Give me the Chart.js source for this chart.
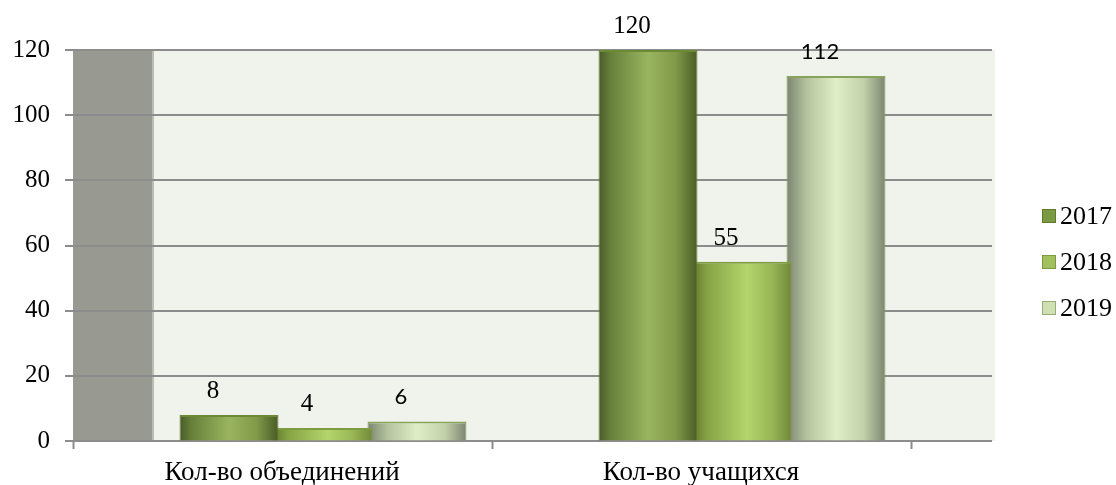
<!DOCTYPE html>
<html>
<head>
<meta charset="utf-8">
<script src="https://cdn.jsdelivr.net/npm/chart.js@4.4.0/dist/chart.umd.min.js"></script>
<style>
  html, body { margin: 0; padding: 0; background: #fff; }
  #wrap { width: 1116px; height: 485px; }
</style>
</head>
<body>
<div id="wrap"><canvas id="chart"></canvas></div>
<script>
// Chart data
const categories = ['Кол-во объединений', 'Кол-во учащихся'];
const years = ['2017', '2018', '2019'];
const values2017 = [8, 120];
const values2018 = [4, 55];
const values2019 = [6, 112];
const yMin = 0, yMax = 120, yStep = 20;

const serif = '"Liberation Serif", "Times New Roman", serif';
const sans = 'Lato, "Open Sans", sans-serif';

// horizontal "cylinder" shading for each series
const barStops = [
    [[0, '#48592a'], [0.12, '#66803a'], [0.5, '#9ab55f'], [0.78, '#80994a'], [0.95, '#55692d'], [1, '#4b5d28']],
    [[0, '#63792f'], [0.15, '#86a444'], [0.55, '#b3d56c'], [0.8, '#98b755'], [1, '#70883a']],
    [[0, '#7b8470'], [0.2, '#b4c29e'], [0.5, '#e0eec6'], [0.78, '#c3d1aa'], [1, '#7b8570']]
];
const borderColors = ['#6c8a36', '#7d9c40', '#8aa35c'];
const legendFill = ['#7a9a42', '#a2c05e', '#d0e0b2'];
const legendBorder = ['#5f7a30', '#7d9c40', '#98ae78'];
const labelFonts = ['25px ' + serif, '25px ' + serif, '22px ' + sans];

const decor = {
    id: 'decor',
    beforeDraw(chart) {
        const ctx = chart.ctx;
        const xs = chart.scales.x, ys = chart.scales.y;
        const front = xs.left - 40.5;
        const back = xs.right + 43.5;
        const top = ys.top, bottom = ys.bottom;
        ctx.save();
        // back wall and side wall
        ctx.fillStyle = '#f0f2ec';
        ctx.fillRect(front, top, back - front, bottom - top);
        ctx.fillStyle = '#989a92';
        ctx.fillRect(front, top, 80, bottom - top);
        ctx.fillStyle = '#b9bcb2';
        ctx.fillRect(front + 79, top, 2, bottom - top);
        // grid lines
        ctx.strokeStyle = '#8c8c8c';
        ctx.lineWidth = 2;
        ys.ticks.forEach(t => {
            const y = Math.round(ys.getPixelForValue(t.value));
            ctx.beginPath();
            ctx.moveTo(front - 8, y);
            ctx.lineTo(back - 3, y);
            ctx.stroke();
        });
        // x axis ticks at category edges
        const w = xs.width / categories.length;
        for (let i = 0; i <= categories.length; i++) {
            const x = Math.round(xs.left + i * w - 40.5) + 0.5;
            ctx.beginPath();
            ctx.moveTo(x, bottom);
            ctx.lineTo(x, bottom + 8);
            ctx.stroke();
        }
        ctx.restore();
    },
    beforeDatasetsDraw(chart) {
        const ctx = chart.ctx;
        chart.data.datasets.forEach((ds, di) => {
            chart.getDatasetMeta(di).data.forEach(el => {
                const g = ctx.createLinearGradient(el.x - el.width / 2, 0, el.x + el.width / 2, 0);
                barStops[di].forEach(s => g.addColorStop(s[0], s[1]));
                el.options.backgroundColor = g;
            });
        });
    },
    afterDatasetsDraw(chart) {
        const ctx = chart.ctx;
        ctx.save();
        ctx.fillStyle = '#000';
        ctx.textAlign = 'center';
        ctx.textBaseline = 'alphabetic';
        chart.data.datasets.forEach((ds, di) => {
            ctx.font = labelFonts[di];
            chart.getDatasetMeta(di).data.forEach((el, i) => {
                ctx.fillText(String(ds.data[i]), el.x - 16, el.y - 17);
            });
        });
        ctx.restore();
    },
    afterDraw(chart) {
        const ctx = chart.ctx;
        ctx.save();
        ctx.font = '26px ' + serif;
        ctx.textBaseline = 'middle';
        ctx.textAlign = 'left';
        years.forEach((yr, i) => {
            const cy = 216 + i * 46;
            ctx.fillStyle = legendFill[i];
            ctx.fillRect(1042, cy - 7, 14, 14);
            ctx.strokeStyle = legendBorder[i];
            ctx.lineWidth = 1;
            ctx.strokeRect(1042.5, cy - 6.5, 13, 13);
            ctx.fillStyle = '#000';
            ctx.fillText(yr, 1060, cy + 1);
        });
        ctx.restore();
    }
};

const makeSet = (label, data, i) => ({
    label: label,
    data: data,
    backgroundColor: () => barStops[i][2][1],
    borderColor: borderColors[i],
    borderWidth: { top: 2, left: 1, right: 1, bottom: 0 },
    borderSkipped: 'bottom',
    categoryPercentage: 0.673,
    barPercentage: 1.053
});

new Chart(document.getElementById('chart'), {
    type: 'bar',
    data: {
        labels: categories,
        datasets: [
            makeSet(years[0], values2017, 0),
            makeSet(years[1], values2018, 1),
            makeSet(years[2], values2019, 2)
        ]
    },
    options: {
        responsive: true,
        maintainAspectRatio: false,
        animation: false,
        layout: { padding: { top: 50, right: 164.5, bottom: 0, left: 0 } },
        plugins: {
            legend: { display: false },
            tooltip: { enabled: false }
        },
        scales: {
            x: {
                grid: { display: true, color: 'transparent', drawOnChartArea: false, drawTicks: true, tickLength: 16 },
                border: { display: false },
                ticks: {
                    color: '#000',
                    font: { family: serif, size: 27 },
                    padding: 0,
                    labelOffset: -41,
                    maxRotation: 0,
                    autoSkip: false
                },
                afterFit(scale) { scale.height = 44; }
            },
            y: {
                min: yMin,
                max: yMax,
                grid: { display: true, color: 'transparent', drawOnChartArea: false, drawTicks: true, tickLength: 63.5 },
                border: { display: false },
                ticks: {
                    stepSize: yStep,
                    color: '#000',
                    font: { family: serif, size: 25 },
                    padding: 0
                },
                afterFit(scale) { scale.width = 113.5; }
            }
        }
    },
    plugins: [decor]
});
</script>
</body>
</html>
